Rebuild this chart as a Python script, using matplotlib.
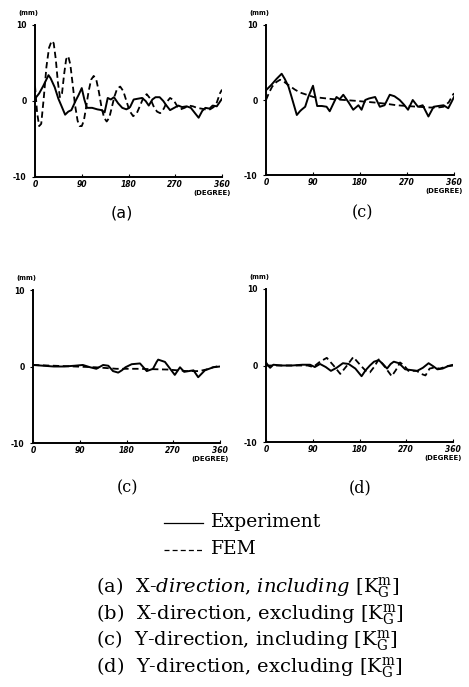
import matplotlib
matplotlib.use("Agg")
import matplotlib.pyplot as plt
from matplotlib.lines import Line2D

plt.rcParams['mathtext.fontset'] = 'dejavuserif'

W, H = 469, 687

# (a) X-direction, including [KGm]
deg_a_fem = [0, 4, 8, 12, 17, 22, 27, 32, 36, 40, 44, 48, 52, 56, 60, 64, 68, 72, 77, 82,
             86, 90, 94, 98, 103, 108, 113, 118, 123, 128, 133, 138, 143, 148, 153, 158,
             164, 170, 176, 182, 189, 196, 203, 209, 215, 222, 229, 235, 241, 248, 254,
             260, 267, 274, 280, 288, 296, 304, 312, 320, 328, 337, 344, 350, 356, 360]
val_a_fem = [2.0, -1.5, -3.3, -3.0, 0.5, 4.5, 7.0, 7.9, 7.6, 5.5, 2.5, 0.5, 1.0, 3.5, 5.5,
             5.9, 4.8, 2.5, -0.5, -2.6, -3.3, -3.3, -2.6, -1.0, 1.2, 2.8, 3.3, 2.8, 1.2,
             -0.8, -2.2, -2.7, -2.2, -0.8, 0.6, 1.6, 1.9, 1.3, 0.0, -1.3, -2.0, -1.6, -0.5,
             0.5, 0.9, 0.3, -0.8, -1.4, -1.6, -1.0, -0.1, 0.4, 0.1, -0.7, -1.1, -0.9, -0.6,
             -0.7, -0.9, -1.0, -1.1, -1.1, -0.8, -0.2, 1.0, 1.5]
deg_a_exp = [0, 8, 16, 26, 30, 38, 45, 50, 58, 64, 70, 78, 84, 90, 95, 100, 110, 120, 128,
             134, 140, 146, 152, 160, 168, 176, 183, 190, 198, 206, 213, 219, 226, 232,
             240, 247, 252, 260, 268, 276, 283, 292, 300, 308, 315, 322, 328, 336, 342,
             350, 355, 360]
val_a_exp = [0.3, 1.0, 2.0, 3.4, 3.0, 1.8, 0.3, -0.5, -1.8, -1.4, -1.2, 0.0, 0.8, 1.7, 0.2,
             -0.9, -0.9, -1.1, -1.2, -1.5, 0.4, 0.2, 0.5, -0.3, -0.9, -1.1, -0.8, 0.2, 0.3,
             0.4, 0.0, -0.6, 0.2, 0.5, 0.5, 0.0, -0.5, -1.2, -0.9, -0.6, -0.8, -0.7, -0.9,
             -1.6, -2.2, -1.3, -0.9, -1.0, -0.6, -0.7, -0.2, 0.3]

# (b) X-direction, excluding [KGm]
deg_b_fem = [0, 6, 12, 20, 27, 35, 45, 55, 65, 78, 91, 110, 130, 150, 170, 186, 210, 230,
             250, 270, 290, 314, 330, 340, 350, 358, 360]
val_b_fem = [0.0, 1.0, 1.8, 2.4, 2.7, 2.4, 1.9, 1.4, 1.0, 0.7, 0.4, 0.25, 0.1, 0.0, -0.1,
             -0.2, -0.35, -0.5, -0.7, -0.8, -0.9, -1.0, -1.0, -0.9, -0.3, 0.7, 0.9]
deg_b_exp = [0, 10, 20, 30, 36, 43, 49, 59, 65, 68, 75, 81, 90, 98, 107, 116, 122, 135, 141,
             148, 158, 167, 177, 183, 190, 197, 209, 218, 227, 237, 246, 256, 264, 272,
             281, 291, 300, 311, 321, 330, 340, 349, 355, 360]
val_b_exp = [1.3, 2.0, 2.8, 3.5, 2.8, 1.8, 0.4, -2.0, -1.5, -1.3, -0.9, 0.4, 1.9, -0.8,
             -0.8, -0.9, -1.5, 0.4, 0.1, 0.7, -0.3, -1.3, -0.7, -1.3, 0.0, 0.2, 0.4, -0.9,
             -0.7, 0.7, 0.5, 0.0, -0.6, -1.3, 0.0, -0.9, -0.7, -2.2, -0.9, -0.8, -0.7, -1.1,
             -0.3, 0.4]

# (c) Y-direction, including [KGm]
deg_c_fem = [0, 40, 80, 120, 161, 200, 231, 260, 296, 320, 333, 347, 360]
val_c_fem = [0.2, 0.1, 0.0, -0.1, -0.3, -0.3, -0.35, -0.4, -0.6, -0.6, -0.4, -0.1, 0.1]
deg_c_exp = [0, 20, 40, 60, 80, 96, 110, 122, 135, 145, 154, 164, 171, 178, 190, 206, 219,
             231, 238, 241, 254, 273, 283, 291, 309, 318, 331, 347, 360]
val_c_exp = [0.2, 0.1, 0.0, 0.0, 0.1, 0.2, -0.1, -0.3, 0.2, 0.1, -0.6, -0.8, -0.5, -0.1,
             0.3, 0.4, -0.6, -0.3, 0.6, 0.9, 0.6, -1.1, -0.1, -0.7, -0.5, -1.4, -0.5, -0.1,
             0.0]

# (d) Y-direction, excluding [KGm]
deg_d_fem = [0, 30, 60, 80, 91, 104, 117, 130, 143, 156, 168, 181, 192, 200, 208, 217, 229,
             242, 250, 258, 266, 274, 290, 299, 307, 315, 322, 335, 348, 360]
val_d_fem = [0.0, 0.0, 0.0, 0.0, -0.2, 0.5, 1.0, 0.0, -1.1, 0.0, 1.1, 0.1, -0.7, -0.9,
             -0.2, 0.8, -0.2, -1.4, -0.6, 0.4, 0.0, -0.7, -0.7, -1.1, -1.3, -0.4, -0.3,
             -0.4, -0.1, 0.1]
deg_d_exp = [0, 4, 8, 14, 30, 50, 70, 85, 94, 104, 115, 125, 136, 148, 159, 172, 184, 192,
             200, 208, 217, 225, 233, 240, 246, 256, 268, 280, 291, 302, 313, 322, 330, 340,
             350, 360]
val_d_exp = [0.4, 0.0, -0.3, 0.1, 0.0, 0.0, 0.1, 0.1, -0.2, 0.2, -0.2, -0.7, -0.3, 0.3, 0.2,
             -0.4, -1.4, -0.6, 0.0, 0.5, 0.7, 0.2, -0.4, 0.2, 0.5, 0.3, -0.5, -0.6, -0.7,
             -0.3, 0.3, -0.1, -0.5, -0.4, -0.1, 0.0]

xticks = [0, 90, 180, 270, 360]
yticks = [-10, 0, 10]
ytick_labels = ['-10', '0', '10']

captions = [
    r'(a)  X-$\mathit{direction}$, $\mathit{including}$ [K$_{\rm G}^{\rm m}$]',
    r'(b)  X-direction, excluding [K$_{\rm G}^{\rm m}$]',
    r'(c)  Y-direction, including [K$_{\rm G}^{\rm m}$]',
    r'(d)  Y-direction, excluding [K$_{\rm G}^{\rm m}$]',
]


def fx(px):
    return px / W


def fy(py):
    return 1 - py / H


fig = plt.figure(figsize=(W / 100, H / 100), dpi=100)
fig.patch.set_facecolor('white')

panels = [
    # (left, top, right, bottom) in px, fem, exp, label, label pos, label font
    ((35, 25, 222, 177), (deg_a_fem, val_a_fem), (deg_a_exp, val_a_exp),
     '(a)', (122, 213), 'DejaVu Sans'),
    ((266, 25, 454, 175), (deg_b_fem, val_b_fem), (deg_b_exp, val_b_exp),
     '(c)', (362, 213), 'DejaVu Serif'),
    ((33, 290, 220, 443), (deg_c_fem, val_c_fem), (deg_c_exp, val_c_exp),
     '(c)', (127, 488), 'DejaVu Serif'),
    ((266, 289, 453, 442), (deg_d_fem, val_d_fem), (deg_d_exp, val_d_exp),
     '(d)', (360, 488), 'DejaVu Serif'),
]

for box, fem, exp, lab, lpos, lfont in panels:
    l, t, r, b = box
    ax = fig.add_axes([fx(l), fy(b), (r - l) / W, (b - t) / H])
    ax.plot(exp[0], exp[1], color='black', lw=1.4, solid_joinstyle='round')
    ax.plot(fem[0], fem[1], color='black', lw=1.3, dashes=(3.5, 2))
    ax.set_xlim(0, 360)
    ax.set_ylim(-10, 10)
    for s in ['top', 'right']:
        ax.spines[s].set_visible(False)
    for s in ['left', 'bottom']:
        ax.spines[s].set_linewidth(1.4)
    ax.set_xticks(xticks)
    ax.set_xticklabels([str(v) for v in xticks], fontsize=5.5, fontweight='bold',
                       style='italic')
    ax.set_yticks(yticks)
    ax.set_yticklabels(ytick_labels, fontsize=5.5, fontweight='bold')
    ax.tick_params(axis='x', direction='in', length=2, width=0.8, pad=2.5)
    ax.tick_params(axis='y', direction='out', length=2, width=0.8, pad=4)
    ax.text(0.02, 1.08, '(mm)', transform=ax.transAxes, ha='right', va='center',
            fontsize=4.8, fontweight='bold')
    ax.text(1.045, -0.105, '(DEGREE)', transform=ax.transAxes, ha='right',
            va='center', fontsize=5, fontweight='bold')
    fig.text(fx(lpos[0]), fy(lpos[1]), lab, ha='center', va='center', fontsize=11.5,
             family=lfont)

# legend for the line styles
fig.add_artist(Line2D([fx(164), fx(203)], [fy(523), fy(523)], color='black', lw=0.9,
                      transform=fig.transFigure))
fig.add_artist(Line2D([fx(164), fx(203)], [fy(550), fy(550)], color='black', lw=0.9,
                      dashes=(4, 2.5), transform=fig.transFigure))
fig.text(fx(211), fy(522), 'Experiment', ha='left', va='center', fontsize=13.5,
         family='DejaVu Serif')
fig.text(fx(211), fy(549), 'FEM', ha='left', va='center', fontsize=13.5,
         family='DejaVu Serif')

for i, cap in enumerate(captions):
    fig.text(fx(96), fy(588 + 26.5 * i), cap, ha='left', va='center', fontsize=14,
             family='DejaVu Serif')

fig.savefig('out.png', dpi=100)
